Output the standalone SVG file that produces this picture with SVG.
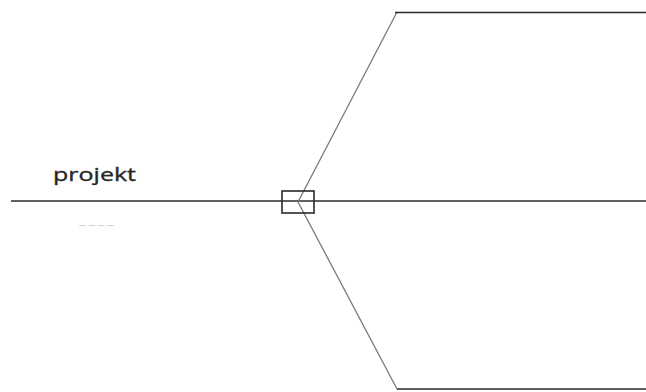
<svg xmlns="http://www.w3.org/2000/svg" width="646" height="392" viewBox="0 0 646 392">
<style>
.main{stroke:#2a2a2a;stroke-width:1.6;fill:none}
.diag{stroke:#7a7a7a;stroke-width:1.3;fill:none}
.lbl{font-family:"Open Sans","Noto Sans",sans-serif;font-size:19px;font-weight:400;fill:#262626;stroke:#262626;stroke-width:0.35}
.faint{font-family:"Open Sans",sans-serif;font-size:12px;fill:#d2d2d2}
</style>
<rect width="646" height="392" fill="#fff"/>
<g id="connectors">
<line class="main" x1="11" y1="201" x2="646" y2="201"/>
<polyline class="diag" points="397,12 298,202 397,389"/>
<line class="main" x1="395" y1="12.5" x2="646" y2="12.5"/>
<line class="main" x1="397" y1="389" x2="646" y2="389"/>
</g>
<g id="junction">
<rect class="main" x="282" y="191" width="32" height="22"/>
</g>
<g id="label">
<text class="lbl" x="53" y="181" textLength="83" lengthAdjust="spacingAndGlyphs">projekt</text>
<text class="faint" x="78" y="229" textLength="37" lengthAdjust="spacingAndGlyphs">----</text>
</g>
</svg>
